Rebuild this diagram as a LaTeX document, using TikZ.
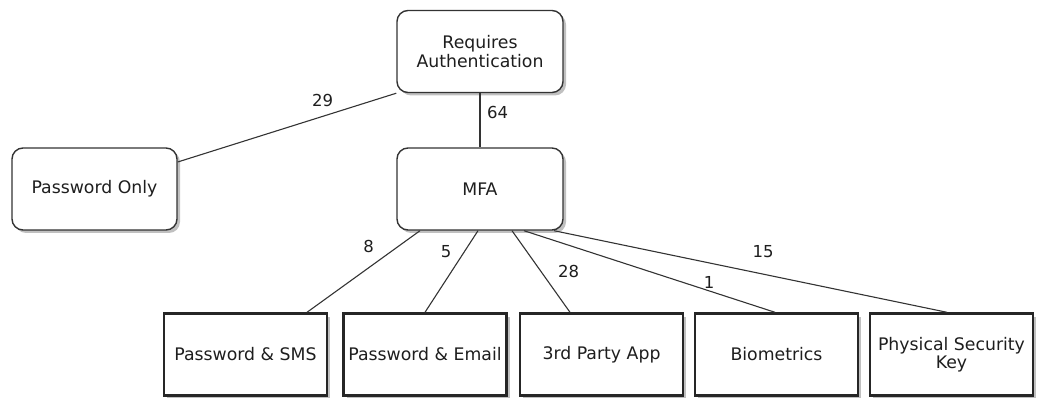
\documentclass[tikz,border=0pt]{standalone}
\usepackage{fontspec}
\setmainfont{DejaVu Sans}
\usetikzlibrary{shadows}
\definecolor{ink}{HTML}{1E1E1E}
\definecolor{edge}{HTML}{333333}
\tikzset{
  lbl/.style={font=\fontsize{16.5}{19}\selectfont, text=ink, inner sep=0pt, anchor=base},
  roundbox/.style={draw=edge, line width=1.4pt, rounded corners=11pt, fill=white,
    minimum width=166pt, minimum height=82pt, align=center, inner sep=2pt,
    font=\fontsize{17.3}{18.5}\selectfont, text=ink,
    drop shadow={shadow xshift=3pt, shadow yshift=-3pt, fill=black!45, opacity=0.55}},
  leafbox/.style={draw=black!85, line width=2.4pt, fill=white,
    minimum width=163pt, minimum height=82pt, align=center, inner sep=2pt,
    font=\fontsize{17.3}{18.5}\selectfont, text=ink,
    drop shadow={shadow xshift=3pt, shadow yshift=-3pt, fill=black!45, opacity=0.55}},
  conn/.style={draw=edge, line width=1.1pt}
}
\begin{document}
\begin{tikzpicture}[x=1pt,y=-1pt]
\useasboundingbox (0,0) rectangle (1044,398);
\node[roundbox] (req) at (480,51.5) {Requires\\Authentication};
\node[roundbox] (mfa) at (480,189) {MFA};
\node[roundbox, minimum width=165pt] (pwo) at (94.5,189) {Password Only};
\node[leafbox] (sms) at (245.5,354.5) {Password \& SMS};
\node[leafbox] (email) at (425,354.5) {Password \& Email};
\node[leafbox] (app) at (601.5,354.5) {3rd Party App};
\node[leafbox] (bio) at (776.5,354.5) {Biometrics};
\node[leafbox] (key) at (951.5,354.5) {Physical Security\\Key};

\draw[conn] ([yshift=27pt]pwo.east) -- (req.south west);
\draw[conn] (req.south) -- (mfa.north);
\draw[conn] ([xshift=-60pt]mfa.south) -- ([xshift=61.5pt]sms.north);
\draw[conn] ([xshift=-2pt]mfa.south) -- (email.north);
\draw[conn] ([xshift=32pt]mfa.south) -- ([xshift=-31.5pt]app.north);
\draw[conn] ([xshift=44pt]mfa.south) -- ([xshift=-1.5pt]bio.north);
\draw[conn] ([xshift=74pt]mfa.south) -- ([xshift=-4.5pt]key.north);

\node[lbl] (l29) at (322.5,107) {29};
\node[lbl] (l64) at (497.5,119) {64};
\node[lbl] (l8) at (368.5,252) {8};
\node[lbl] (l5) at (446,257) {5};
\node[lbl] (l28) at (568.5,277) {28};
\node[lbl] (l1) at (709,288) {1};
\node[lbl] (l15) at (763,257) {15};
\end{tikzpicture}
\end{document}
